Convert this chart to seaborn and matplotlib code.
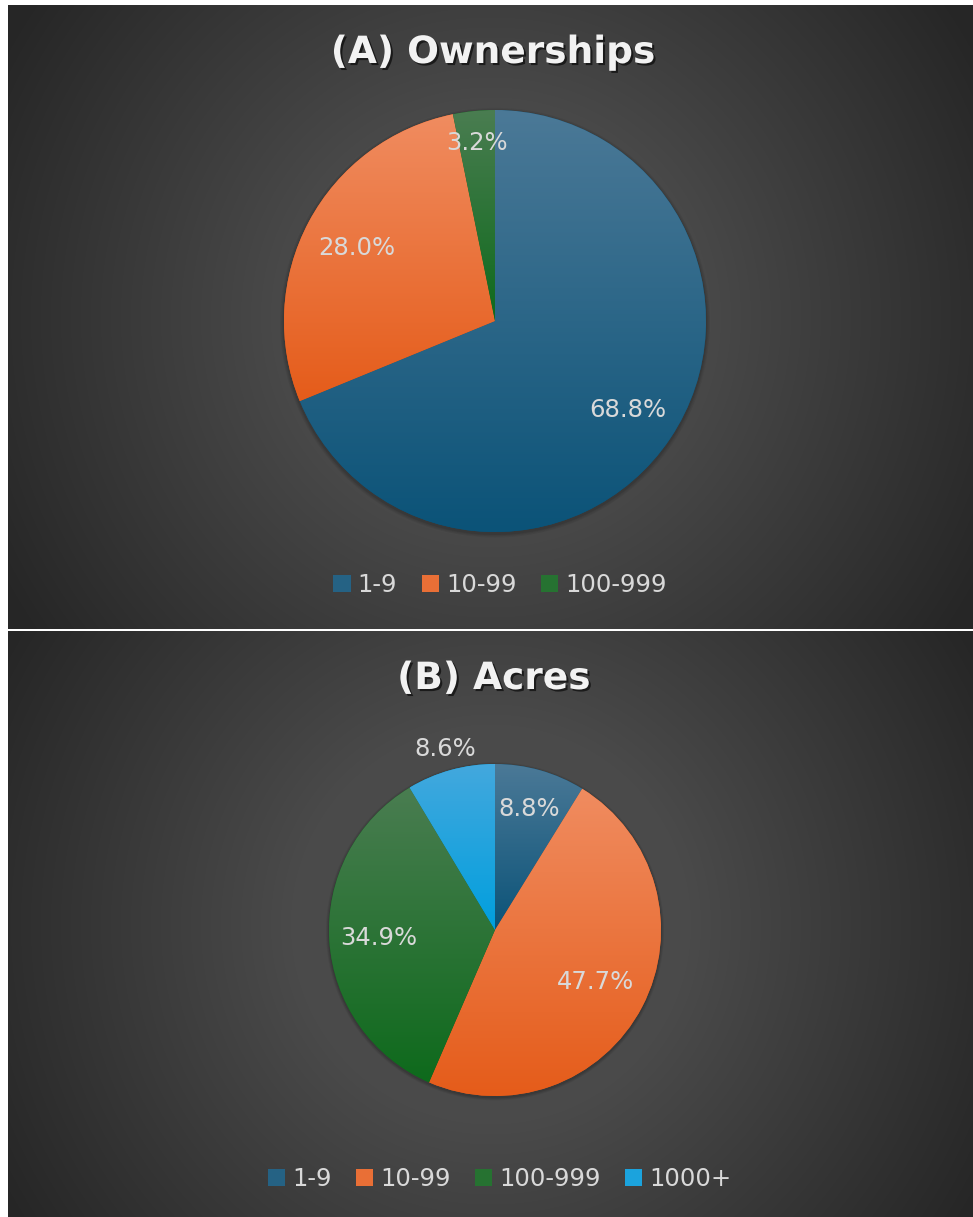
import numpy as np
import matplotlib
matplotlib.use("Agg")
import matplotlib.pyplot as plt
import matplotlib.patheffects as pe
from matplotlib.patches import Rectangle, Circle
from matplotlib.colors import to_rgb
import seaborn as sns

# ---------------- data ----------------
categories_a = ["1-9", "10-99", "100-999"]
values_a = [68.8, 28.0, 3.2]
categories_b = ["1-9", "10-99", "100-999", "1000+"]
values_b = [8.8, 47.7, 34.9, 8.6]
title_a = "(A) Ownerships"
title_b = "(B) Acres"

# ---------------- styles ----------------
light = {"1-9": "#4b7997", "10-99": "#f08c60", "100-999": "#4a7d51", "1000+": "#43a8de"}
dark = {"1-9": "#0b5378", "10-99": "#e55c1a", "100-999": "#0e6a1c", "1000+": "#009fdd"}
label_dist_a = [0.76, 0.74, 0.85]
label_dist_b = [0.76, 0.68, 0.70, 1.13]

sns.set_theme(style="dark")
plt.rcParams['font.family'] = ['DejaVu Sans']

W, H = 973, 1217
fig = plt.figure(figsize=(W / 100, H / 100), dpi=100, facecolor="white")

# ---------------- backgrounds ----------------
bg = np.ones((H, W, 3))
yy, xx = np.mgrid[0:H, 0:W]
c_light = np.array(to_rgb("#4a4a4a"))
c_dark = np.array(to_rgb("#262626"))


def fill_panel(x0, x1, y0, y1):
    cx, cy = (x0 + x1) / 2, (y0 + y1) / 2
    r = np.hypot(xx - cx, yy - cy)
    t = np.clip((r - 200) / 360, 0, 1)
    img = c_light[None, None, :] + (c_dark - c_light)[None, None, :] * t[..., None]
    bg[y0:y1, x0:x1] = img[y0:y1, x0:x1]


fill_panel(8, W, 5, 629)
fill_panel(8, W, 631, H)
ax_bg = fig.add_axes([0, 0, 1, 1])
ax_bg.imshow(bg, extent=(0, W, H, 0), aspect="auto", interpolation="nearest")
ax_bg.set_xlim(0, W)
ax_bg.set_ylim(H, 0)
ax_bg.axis("off")


def draw_pie(cx, cy, R, cats, vals, dists):
    ax = fig.add_axes([(cx - R) / W, (H - cy - R) / H, 2 * R / W, 2 * R / H])
    wedges, texts, autotexts = ax.pie(
        vals, startangle=90, counterclock=False,
        colors=[dark[c] for c in cats], autopct="%.1f%%", pctdistance=0.75,
        textprops=dict(color="#d9d9d9", fontsize=17.5),
        wedgeprops=dict(linewidth=0),
    )
    for k, a in enumerate([0.12, 0.10, 0.08]):
        shadow = Circle((0.0, -0.008), 1.0 + 0.006 * (k + 1), facecolor="#111111",
                        alpha=a, edgecolor="none", zorder=0, clip_on=False)
        ax.add_patch(shadow)
    grad = np.linspace(0, 1, 256)[:, None, None]
    for w, c in zip(wedges, cats):
        ext = w.get_path().get_extents()
        lo = np.array(to_rgb(light[c]))[None, None, :]
        hi = np.array(to_rgb(dark[c]))[None, None, :]
        col = lo + (hi - lo) * grad
        ax.imshow(col, extent=[ext.x0, ext.x1, ext.y0, ext.y1], origin="upper",
                  aspect="auto", clip_path=w, zorder=w.get_zorder() + 0.1,
                  interpolation="bilinear")
    for w, t, d in zip(wedges, autotexts, dists):
        ang = np.deg2rad((w.theta1 + w.theta2) / 2)
        t.set_position((d * np.cos(ang), d * np.sin(ang)))
        t.set_zorder(10)
    ax.set_xlim(-1, 1)
    ax.set_ylim(-1, 1)
    ax.set_aspect("auto")
    ax.axis("off")
    return ax


draw_pie(495, 321, 211, categories_a, values_a, label_dist_a)
draw_pie(495, 930, 166, categories_b, values_b, label_dist_b)


def mid(c):
    a = np.array(to_rgb(light[c]))
    b = np.array(to_rgb(dark[c]))
    return tuple(a * 0.4 + b * 0.6)


def legend(cats, x, y):
    handles = [Rectangle((0, 0), 1, 1, facecolor=mid(c), edgecolor="none") for c in cats]
    fig.legend(handles, cats, loc="center", bbox_to_anchor=(x / W, 1 - y / H),
               ncol=len(cats), frameon=False, fontsize=17.5, labelcolor="#d9d9d9",
               handlelength=0.7, handleheight=0.7, handletextpad=0.3,
               columnspacing=1.0)


legend(categories_a, 500, 585)
legend(categories_b, 500, 1179)

shadow_fx = [pe.withSimplePatchShadow(offset=(1.5, -1.5), shadow_rgbFace="black", alpha=0.6)]
fig.text(493 / W, 1 - 53 / H, title_a, ha="center", va="center", fontsize=27,
         fontweight="bold", color="#f2f2f2", path_effects=shadow_fx)
fig.text(494 / W, 1 - 679 / H, title_b, ha="center", va="center", fontsize=27,
         fontweight="bold", color="#f2f2f2", path_effects=shadow_fx)

fig.savefig("out.png", dpi=100, facecolor="white")
